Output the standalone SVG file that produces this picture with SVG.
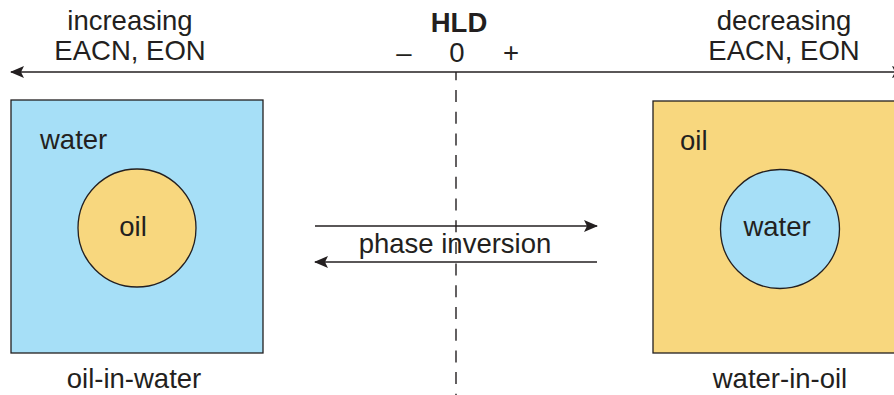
<svg xmlns="http://www.w3.org/2000/svg" width="894" height="395" viewBox="0 0 894 395">
  <style>
    text { font-family: "Liberation Sans", Arial, Helvetica, sans-serif; font-size: 27.5px; fill: #231f20; }
    .mid { text-anchor: middle; }
    .bold { font-weight: bold; }
    .line { stroke: #231f20; stroke-width: 1.4; fill: none; }
    .water { fill: #a6dff7; stroke: #231f20; stroke-width: 1.3; }
    .oil { fill: #f8d77e; stroke: #231f20; stroke-width: 1.3; }
  </style>
  <defs>
    <marker id="head" viewBox="0 0 14 12" refX="13" refY="6" markerWidth="14" markerHeight="12" markerUnits="userSpaceOnUse" orient="auto-start-reverse">
      <path d="M0,0 L14,6 L0,12 L3,6 Z" fill="#231f20"/>
    </marker>
  </defs>

  <!-- HLD scale axis labels -->
  <g id="axis-labels">
    <text class="mid" x="130" y="30">increasing</text>
    <text class="mid" x="130" y="60">EACN, EON</text>
    <text class="mid" x="784" y="30">decreasing</text>
    <text class="mid" x="784" y="60">EACN, EON</text>
    <text class="mid bold" x="459" y="32">HLD</text>
    <text class="mid" x="404" y="62">–</text>
    <text class="mid" x="457" y="62">0</text>
    <text class="mid" x="511" y="62">+</text>
  </g>

  <!-- oil-in-water emulsion -->
  <g id="oil-in-water">
    <rect class="water" x="11" y="100" width="252" height="253"/>
    <circle class="oil" cx="137" cy="228" r="59"/>
    <text x="40" y="149">water</text>
    <text class="mid" x="133" y="236">oil</text>
    <text class="mid" x="134" y="388">oil-in-water</text>
  </g>

  <!-- water-in-oil emulsion -->
  <g id="water-in-oil">
    <rect class="oil" x="653" y="101" width="246" height="252"/>
    <circle class="water" cx="780" cy="229" r="59.5"/>
    <text x="680" y="150">oil</text>
    <text class="mid" x="777" y="236">water</text>
    <text class="mid" x="780" y="388">water-in-oil</text>
  </g>

  <!-- connectors: HLD axis, zero line, phase inversion arrows -->
  <g id="connectors">
    <line class="line" x1="11" y1="72" x2="905" y2="72" marker-start="url(#head)" marker-end="url(#head)"/>
    <line class="line" x1="456" y1="72" x2="456" y2="395" stroke-dasharray="12 9.7" stroke-dashoffset="3.7"/>
    <line class="line" x1="315" y1="226" x2="597" y2="226" marker-end="url(#head)"/>
    <line class="line" x1="597" y1="262" x2="315" y2="262" marker-end="url(#head)"/>
    <text class="mid" x="455" y="253">phase inversion</text>
  </g>
</svg>
